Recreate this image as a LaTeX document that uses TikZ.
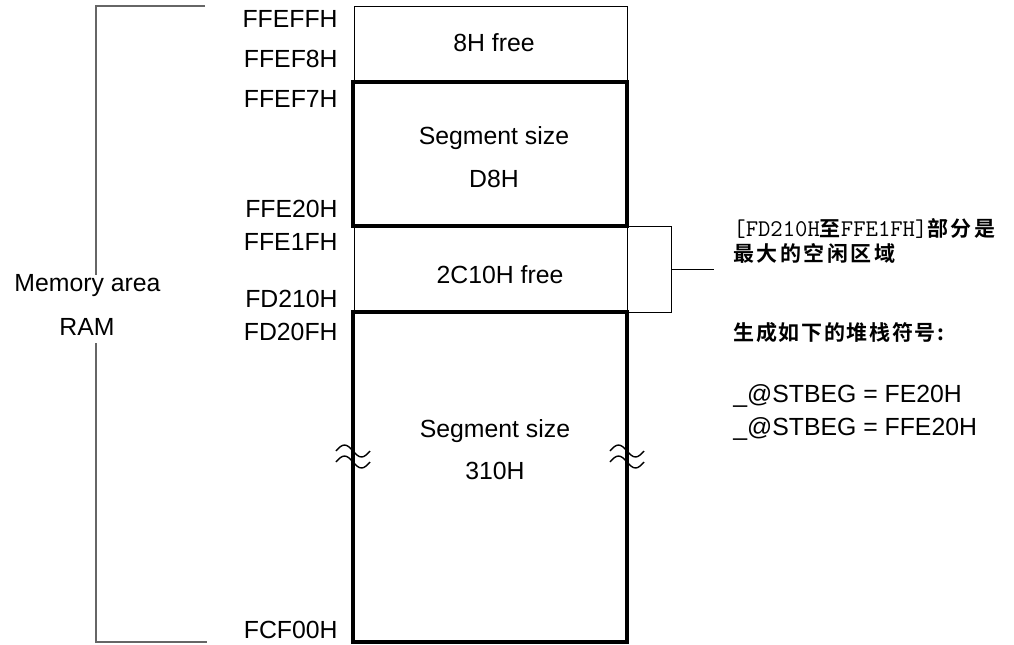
\documentclass[tikz,border=0pt]{standalone}
\usepackage{fontspec}
\setmainfont{Liberation Sans}
\newfontfamily\cjk[LetterSpace=12]{Noto Sans CJK SC Bold}
\newfontfamily\cjkbold[LetterSpace=8]{Noto Sans CJK SC Bold}
\newcommand{\hexmono}[1]{{\fontsize{12}{12}\ttfamily #1}}
\usetikzlibrary{positioning}

\begin{document}
\begin{tikzpicture}[x=0.5pt,y=-0.5pt]

\tikzstyle{every node}=[font=\fontsize{12.4}{14}\selectfont, inner sep=0pt]
\tikzstyle{addr}=[anchor=east]
\tikzstyle{thinbox}=[line width=0.5pt]
\tikzstyle{segbox}=[line width=2pt]
\tikzstyle{brace}=[line width=0.7pt, black!60]
\tikzstyle{note}=[font=\cjk\fontsize{10.5}{12}\selectfont, anchor=west]
\tikzstyle{notebold}=[font=\cjkbold\fontsize{10.5}{12}\selectfont, anchor=west]
\tikzstyle{wave}=[line width=0.7pt]

\useasboundingbox (0,0) rectangle (1014,644);

% address column
    \node[addr] (ffeffh) at (338,18.5) {FFEFFH};
    \node[addr] (ffef8h) at (338,58.5) {FFEF8H};
    \node[addr] (ffef7h) at (338,98.5) {FFEF7H};
    \node[addr] (ffe20h) at (338,208.5) {FFE20H};
    \node[addr] (ffe1fh) at (338,241.5) {FFE1FH};
    \node[addr] (fd210h) at (338,298.5) {FD210H};
    \node[addr] (fd20fh) at (338,331.5) {FD20FH};
    \node[addr] (fcf00h) at (338,630) {FCF00H};

% free areas
    \draw[thinbox] (354,6) rectangle (627,82);
    \draw[thinbox] (354,226) rectangle (627,312);
% segments
    \draw[segbox] (353,82) rectangle (627,226);
    \draw[segbox] (353,312) -- (627,312) -- (627,642) -- (353,642) -- cycle;

% texts in the map
    \node (free8) at (494,43) {8H free};
    \node (seg1) at (494,138) {Segment size};
    \node (seg1size) at (494,179) {D8H};
    \node (free2c) at (500,275) {2C10H free};
    \node (seg2) at (495,431) {Segment size};
    \node (seg2size) at (495,471) {310H};

% break marks
  \foreach \x in {353,627}
    \foreach \y in {451,462}
      \draw[wave] (\x-17,\y) sin (\x-8.5,\y-6) cos (\x,\y) sin (\x+8.5,\y+6) cos (\x+17,\y);

% memory area bracket
    \node (memarea) at (87.5,286) {Memory area};
    \node (ram) at (87,327) {RAM};
    \coordinate (bracetop) at (205,6);
    \coordinate (bracebot) at (207,642);
    \draw[brace] (bracetop) -- (96,6) -- (96,275);
    \draw[brace] (96,343) -- (96,642) -- (bracebot);

% largest free area
    \coordinate (gaptop) at (627,226);
    \coordinate (gapbot) at (627,312);
    \coordinate (gapmid) at (714,269);
    \draw[thinbox] (gaptop) -- (671,226) -- (671,312) -- (gapbot);
    \draw[thinbox] (671,269) -- (gapmid);
    \node[note] (gapnote) at (733,228.5) {\hexmono{[FD210H}至\hexmono{FFE1FH]}部分是};
    \node[note] (gapnote2) at (733,253.5) {最大的空闲区域};

% stack symbols
    \node[notebold] (symnote) at (733,333) {生成如下的堆栈符号:};
    \node[anchor=west] (stbeg1) at (733,396) {\_@STBEG = FE20H};
    \node[anchor=west] (stbeg2) at (733,429) {\_@STBEG = FFE20H};
\end{tikzpicture}
\end{document}
